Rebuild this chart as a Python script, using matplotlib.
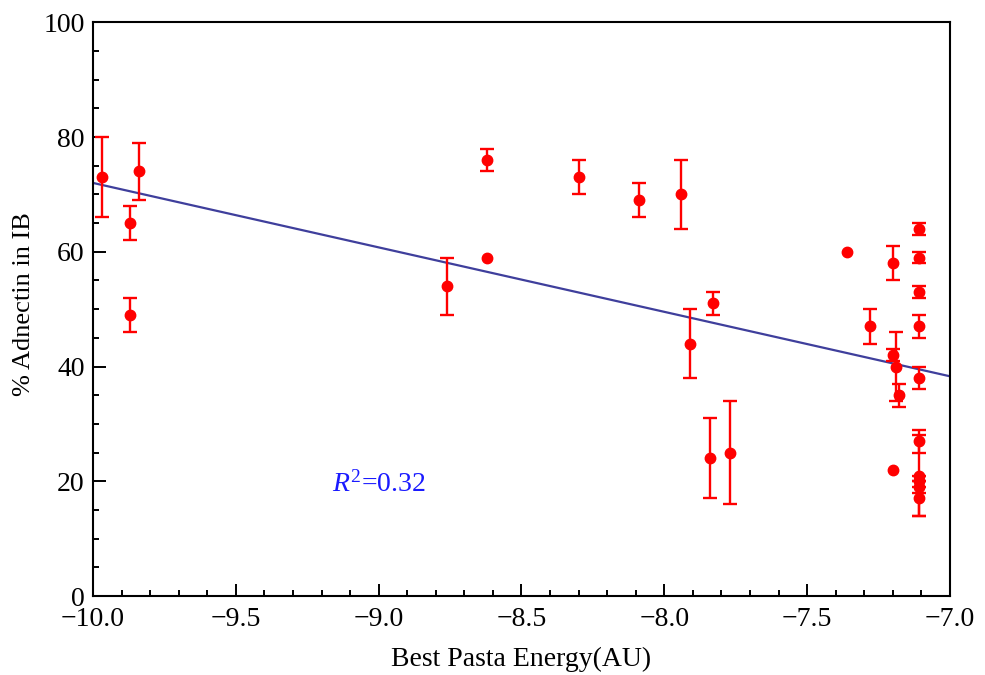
import matplotlib
matplotlib.use("Agg")
import matplotlib.pyplot as plt
from matplotlib.ticker import MultipleLocator

plt.rcParams['font.family'] = ['Liberation Serif', 'DejaVu Serif']
plt.rcParams['mathtext.fontset'] = 'custom'
plt.rcParams['mathtext.rm'] = 'Liberation Serif'
plt.rcParams['mathtext.it'] = 'Liberation Serif:italic'

# binding energy vs % adnectin in inclusion bodies
energy = [-9.97, -9.87, -9.87, -9.84, -8.76, -8.62, -8.62, -8.30, -8.09, -7.94,
          -7.91, -7.83, -7.84, -7.77, -7.36, -7.28, -7.20, -7.20, -7.19, -7.18,
          -7.20, -7.11, -7.11, -7.11, -7.11, -7.11, -7.11, -7.11, -7.11, -7.11,
          -7.11]
adnectin = [73, 65, 49, 74, 54, 76, 59, 73, 69, 70,
            44, 51, 24, 25, 60, 47, 58, 42, 40, 35,
            22, 64, 59, 53, 47, 38, 27, 21, 20, 19,
            17]
err = [7, 3, 3, 5, 5, 2, 0, 3, 3, 6,
       6, 2, 7, 9, 0, 3, 3, 1, 6, 2,
       0, 1, 1, 1, 2, 2, 2, 7, 1, 1,
       3]

# linear fit
fit_x = [-10.0, -7.0]
fit_y = [72.0, 38.3]
r2_text = r'$\it{R}^2$=0.32'

fig = plt.figure(figsize=(9.85, 6.75), dpi=100)
ax = fig.add_axes([0.0944, 0.117, 0.870, 0.850])

ax.plot(fit_x, fit_y, color='#3f3f9c', lw=1.6, zorder=2)

# points with an error bar
ex = [x for x, e in zip(energy, err) if e > 0]
ey = [y for y, e in zip(adnectin, err) if e > 0]
ee = [e for e in err if e > 0]
ax.errorbar(ex, ey, yerr=ee, fmt='o', color='red', ms=7.5,
            elinewidth=1.7, capsize=5, capthick=1.7, zorder=3)
# points without
nx_ = [x for x, e in zip(energy, err) if e == 0]
ny_ = [y for y, e in zip(adnectin, err) if e == 0]
ax.plot(nx_, ny_, 'o', color='red', ms=7.5, zorder=3)

ax.text(-9.0, 19.4, r2_text, color='#1a1aff', fontsize=20, ha='center', va='center')

ax.set_xlim(-10, -7)
ax.set_ylim(0, 100)
ax.xaxis.set_major_locator(MultipleLocator(0.5))
ax.xaxis.set_minor_locator(MultipleLocator(0.1))
ax.yaxis.set_major_locator(MultipleLocator(20))
ax.yaxis.set_minor_locator(MultipleLocator(5))
ax.tick_params(which='both', direction='in', top=False, right=False,
               width=1.4, labelsize=20)
ax.tick_params(axis='x', pad=8)
ax.tick_params(axis='y', pad=6)
ax.tick_params(which='major', length=9)
ax.tick_params(which='minor', length=4)
for s in ax.spines.values():
    s.set_linewidth(1.5)

ax.set_xlabel('Best Pasta Energy(AU)', fontsize=20, va='center')
ax.set_ylabel('% Adnectin in IB', fontsize=19, va='center')
ax.xaxis.set_label_coords(0.5, -0.111)
ax.yaxis.set_label_coords(-0.081, 0.509)

fig.savefig('out.png', dpi=100)
